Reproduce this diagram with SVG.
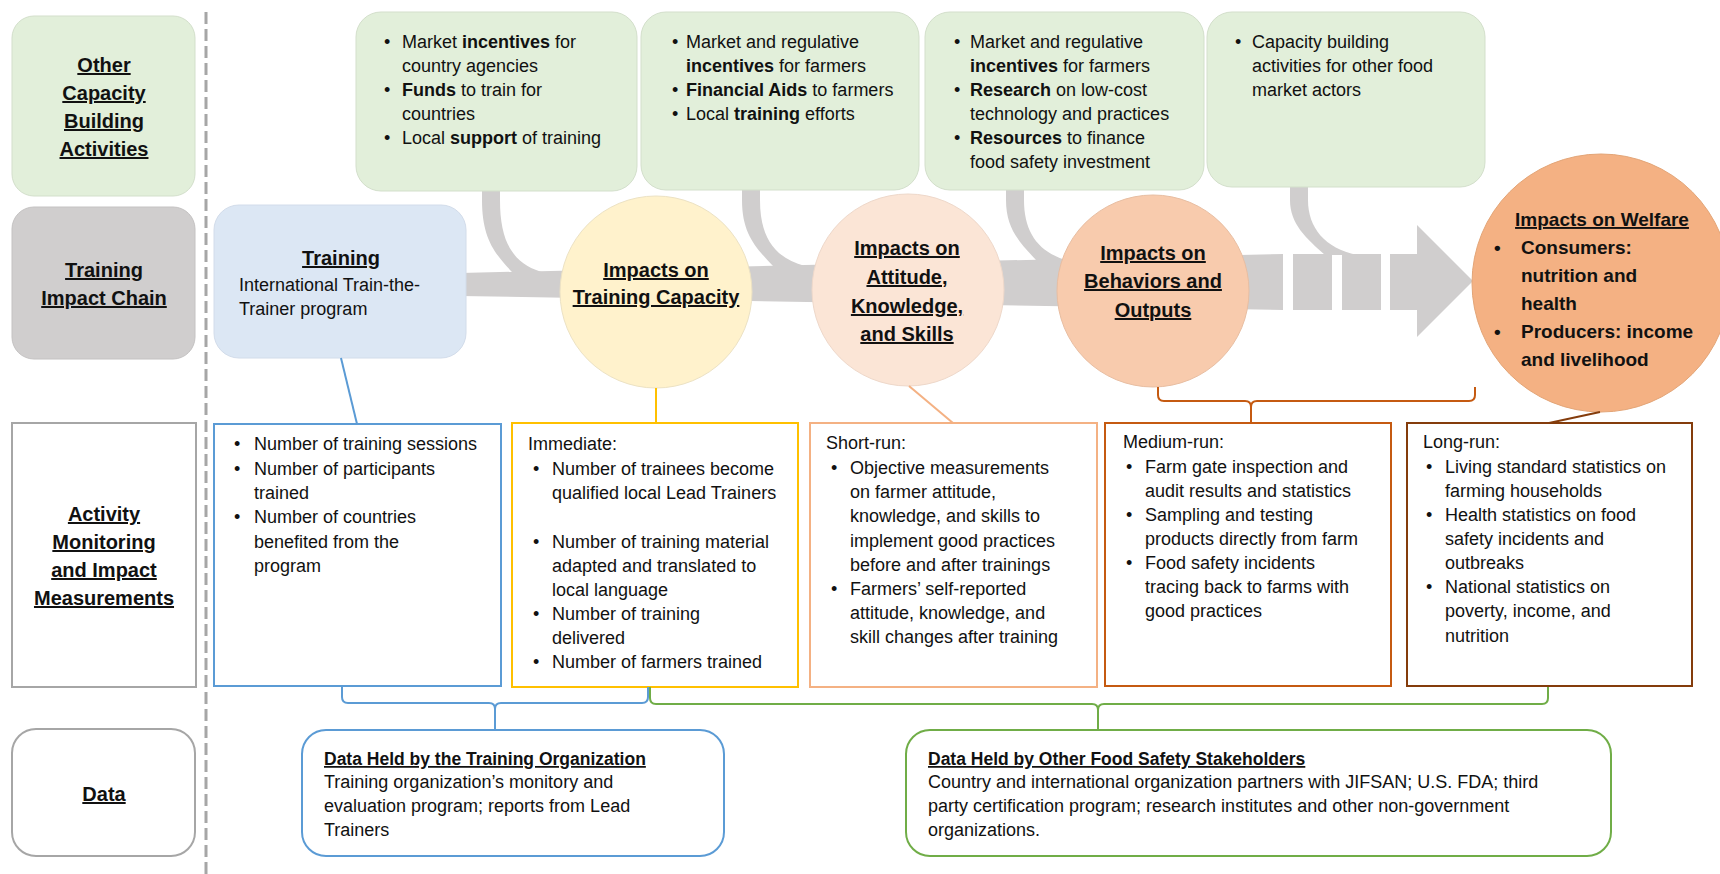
<svg xmlns="http://www.w3.org/2000/svg" width="1720" height="874" viewBox="0 0 1720 874">
<style>
text { font-family: "Liberation Sans", Arial, sans-serif; fill: #111; }
.t { font-size: 18px; }
.b { font-weight: bold; }
.h { font-size: 20px; font-weight: bold; text-decoration: underline; text-anchor: middle; }
.hs { font-size: 17.5px; font-weight: bold; text-decoration: underline; }
.cb { font-size: 19px; font-weight: bold; }
.green { fill: #e2efda; stroke: #d3dfcb; stroke-width: 1; }
.arrow { fill: #d0cece; }
.mbox { fill: #ffffff; stroke-width: 2; }
.conn { fill: none; stroke-width: 2; }
</style>

<!-- dashed separator -->
<line x1="206" y1="12" x2="206" y2="874" stroke="#a6a6a6" stroke-width="3" stroke-dasharray="12 5"/>

<!-- gray process arrow (behind nodes) -->
<g id="process-arrow" class="arrow">
  <polygon points="460,273 1283,254 1283,310 460,296"/>
  <rect x="1293" y="254" width="39" height="56"/>
  <rect x="1342" y="254" width="39" height="56"/>
  <polygon points="1390,254 1417,254 1417,225 1473,281 1417,337 1417,310 1390,310"/>
  <path d="M482,186 L500,186 L500,200 C500,245 515,265 545,273 L513,273 C496,255 482,240 482,200 Z"/>
  <path d="M742,186 L760,186 L760,200 C760,238 775,258 805,266 L773,266 C756,248 742,234 742,200 Z"/>
  <path d="M1006,186 L1024,186 L1024,200 C1024,233 1039,253 1069,261 L1037,261 C1020,243 1006,229 1006,200 Z"/>
  <path d="M1290,186 L1308,186 L1308,200 C1308,228 1325,248 1357,255 L1325,255 C1306,238 1290,224 1290,200 Z"/>
</g>

<!-- row labels -->
<g id="label-ocba">
  <rect x="12" y="16" width="183" height="180" rx="22" class="green"/>
  <text class="h" x="104" y="72">Other</text>
  <text class="h" x="104" y="100">Capacity</text>
  <text class="h" x="104" y="128">Building</text>
  <text class="h" x="104" y="156">Activities</text>
</g>
<g id="label-chain">
  <rect x="12" y="207" width="183" height="152" rx="22" fill="#d0cece" stroke="#c4c2c2" stroke-width="1"/>
  <text class="h" x="104" y="277">Training</text>
  <text class="h" x="104" y="305">Impact Chain</text>
</g>
<g id="label-monitoring">
  <rect x="12" y="423" width="184" height="264" class="mbox" stroke="#a6a6a6"/>
  <text class="h" x="104" y="521">Activity</text>
  <text class="h" x="104" y="549">Monitoring</text>
  <text class="h" x="104" y="577">and Impact</text>
  <text class="h" x="104" y="605">Measurements</text>
</g>
<g id="label-data">
  <rect x="12" y="729" width="183" height="127" rx="24" fill="#ffffff" stroke="#a6a6a6" stroke-width="2"/>
  <text class="h" x="104" y="801">Data</text>
</g>

<!-- other capacity building activities -->
<g id="cba-1">
  <rect x="356" y="12" width="281" height="179" rx="25" class="green"/>
  <text class="t" x="384" y="48">•</text>
  <text class="t" x="402" y="48">Market <tspan class="b">incentives</tspan> for</text>
  <text class="t" x="402" y="72">country agencies</text>
  <text class="t" x="384" y="96">•</text>
  <text class="t" x="402" y="96"><tspan class="b">Funds</tspan> to train for</text>
  <text class="t" x="402" y="120">countries</text>
  <text class="t" x="384" y="144">•</text>
  <text class="t" x="402" y="144">Local <tspan class="b">support</tspan> of training</text>
</g>
<g id="cba-2">
  <rect x="641" y="12" width="278" height="178" rx="25" class="green"/>
  <text class="t" x="672" y="48">•</text>
  <text class="t" x="686" y="48">Market and regulative</text>
  <text class="t" x="686" y="72"><tspan class="b">incentives</tspan> for farmers</text>
  <text class="t" x="672" y="96">•</text>
  <text class="t" x="686" y="96"><tspan class="b">Financial Aids</tspan> to farmers</text>
  <text class="t" x="672" y="120">•</text>
  <text class="t" x="686" y="120">Local <tspan class="b">training</tspan> efforts</text>
</g>
<g id="cba-3">
  <rect x="925" y="12" width="279" height="178" rx="25" class="green"/>
  <text class="t" x="954" y="48">•</text>
  <text class="t" x="970" y="48">Market and regulative</text>
  <text class="t" x="970" y="72"><tspan class="b">incentives</tspan> for farmers</text>
  <text class="t" x="954" y="96">•</text>
  <text class="t" x="970" y="96"><tspan class="b">Research</tspan> on low-cost</text>
  <text class="t" x="970" y="120">technology and practices</text>
  <text class="t" x="954" y="144">•</text>
  <text class="t" x="970" y="144"><tspan class="b">Resources</tspan> to finance</text>
  <text class="t" x="970" y="168">food safety investment</text>
</g>
<g id="cba-4">
  <rect x="1207" y="12" width="278" height="175" rx="25" class="green"/>
  <text class="t" x="1235" y="48">•</text>
  <text class="t" x="1252" y="48">Capacity building</text>
  <text class="t" x="1252" y="72">activities for other food</text>
  <text class="t" x="1252" y="96">market actors</text>
</g>

<!-- impact chain -->
<g id="training">
  <rect x="214" y="205" width="252" height="153" rx="25" fill="#dce7f4" stroke="#d2dcea" stroke-width="1"/>
  <text class="h" x="341" y="265">Training</text>
  <text class="t" x="239" y="291">International Train-the-</text>
  <text class="t" x="239" y="315">Trainer program</text>
</g>
<g id="impact-capacity">
  <circle cx="656" cy="292" r="96" fill="#fff2cc" stroke="#ece2c4" stroke-width="1"/>
  <text class="h" x="656" y="277">Impacts on</text>
  <text class="h" x="656" y="304">Training Capacity</text>
</g>
<g id="impact-aks">
  <circle cx="908" cy="290" r="96" fill="#fbe5d6" stroke="#eed8ca" stroke-width="1"/>
  <text class="h" x="907" y="255">Impacts on</text>
  <text class="h" x="907" y="284">Attitude,</text>
  <text class="h" x="907" y="313">Knowledge,</text>
  <text class="h" x="907" y="341">and Skills</text>
</g>
<g id="impact-behaviors">
  <circle cx="1153" cy="291" r="96" fill="#f8cbad" stroke="#e8bea2" stroke-width="1"/>
  <text class="h" x="1153" y="260">Impacts on</text>
  <text class="h" x="1153" y="288">Behaviors and</text>
  <text class="h" x="1153" y="317">Outputs</text>
</g>
<g id="impact-welfare">
  <circle cx="1601" cy="283" r="129" fill="#f4b183" stroke="#e3a577" stroke-width="1"/>
  <text class="h" x="1602" y="226" style="font-size:19px">Impacts on Welfare</text>
  <text class="cb" x="1494" y="254">•</text>
  <text class="cb" x="1521" y="254">Consumers:</text>
  <text class="cb" x="1521" y="282">nutrition and</text>
  <text class="cb" x="1521" y="310">health</text>
  <text class="cb" x="1494" y="338">•</text>
  <text class="cb" x="1521" y="338">Producers: income</text>
  <text class="cb" x="1521" y="366">and livelihood</text>
</g>

<!-- measurement boxes -->
<g id="measure-training">
  <rect x="214" y="424" width="287" height="262" class="mbox" stroke="#5b9bd5"/>
  <text class="t" x="234" y="450">•</text>
  <text class="t" x="254" y="450">Number of training sessions</text>
  <text class="t" x="234" y="475">•</text>
  <text class="t" x="254" y="475">Number of participants</text>
  <text class="t" x="254" y="499">trained</text>
  <text class="t" x="234" y="523">•</text>
  <text class="t" x="254" y="523">Number of countries</text>
  <text class="t" x="254" y="548">benefited from the</text>
  <text class="t" x="254" y="572">program</text>
</g>
<g id="measure-immediate">
  <rect x="512" y="423" width="286" height="264" class="mbox" stroke="#ffc000"/>
  <text class="t" x="528" y="450">Immediate:</text>
  <text class="t" x="533" y="475">•</text>
  <text class="t" x="552" y="475">Number of trainees become</text>
  <text class="t" x="552" y="499">qualified local Lead Trainers</text>
  <text class="t" x="533" y="548">•</text>
  <text class="t" x="552" y="548">Number of training material</text>
  <text class="t" x="552" y="572">adapted and translated to</text>
  <text class="t" x="552" y="596">local language</text>
  <text class="t" x="533" y="620">•</text>
  <text class="t" x="552" y="620">Number of training</text>
  <text class="t" x="552" y="644">delivered</text>
  <text class="t" x="533" y="668">•</text>
  <text class="t" x="552" y="668">Number of farmers trained</text>
</g>
<g id="measure-short">
  <rect x="810" y="423" width="287" height="264" class="mbox" stroke="#f4b183"/>
  <text class="t" x="826" y="449">Short-run:</text>
  <text class="t" x="831" y="474">•</text>
  <text class="t" x="850" y="474">Objective measurements</text>
  <text class="t" x="850" y="498">on farmer attitude,</text>
  <text class="t" x="850" y="522">knowledge, and skills to</text>
  <text class="t" x="850" y="547">implement good practices</text>
  <text class="t" x="850" y="571">before and after trainings</text>
  <text class="t" x="831" y="595">•</text>
  <text class="t" x="850" y="595">Farmers’ self-reported</text>
  <text class="t" x="850" y="619">attitude, knowledge, and</text>
  <text class="t" x="850" y="643">skill changes after training</text>
</g>
<g id="measure-medium">
  <rect x="1105" y="423" width="286" height="263" class="mbox" stroke="#c55a11"/>
  <text class="t" x="1123" y="448">Medium-run:</text>
  <text class="t" x="1126" y="473">•</text>
  <text class="t" x="1145" y="473">Farm gate inspection and</text>
  <text class="t" x="1145" y="497">audit results and statistics</text>
  <text class="t" x="1126" y="521">•</text>
  <text class="t" x="1145" y="521">Sampling and testing</text>
  <text class="t" x="1145" y="545">products directly from farm</text>
  <text class="t" x="1126" y="569">•</text>
  <text class="t" x="1145" y="569">Food safety incidents</text>
  <text class="t" x="1145" y="593">tracing back to farms with</text>
  <text class="t" x="1145" y="617">good practices</text>
</g>
<g id="measure-long">
  <rect x="1407" y="423" width="285" height="263" class="mbox" stroke="#843c0c"/>
  <text class="t" x="1423" y="448">Long-run:</text>
  <text class="t" x="1426" y="473">•</text>
  <text class="t" x="1445" y="473">Living standard statistics on</text>
  <text class="t" x="1445" y="497">farming households</text>
  <text class="t" x="1426" y="521">•</text>
  <text class="t" x="1445" y="521">Health statistics on food</text>
  <text class="t" x="1445" y="545">safety incidents and</text>
  <text class="t" x="1445" y="569">outbreaks</text>
  <text class="t" x="1426" y="593">•</text>
  <text class="t" x="1445" y="593">National statistics on</text>
  <text class="t" x="1445" y="617">poverty, income, and</text>
  <text class="t" x="1445" y="642">nutrition</text>
</g>

<!-- data boxes -->
<g id="data-training-org">
  <rect x="302" y="730" width="422" height="126" rx="24" fill="#ffffff" stroke="#5b9bd5" stroke-width="2"/>
  <text class="hs" x="324" y="765">Data Held by the Training Organization</text>
  <text class="t" x="324" y="788">Training organization’s monitory and</text>
  <text class="t" x="324" y="812">evaluation program; reports from Lead</text>
  <text class="t" x="324" y="836">Trainers</text>
</g>
<g id="data-stakeholders">
  <rect x="906" y="730" width="705" height="126" rx="24" fill="#ffffff" stroke="#70ad47" stroke-width="2"/>
  <text class="hs" x="928" y="765">Data Held by Other Food Safety Stakeholders</text>
  <text class="t" x="928" y="788">Country and international organization partners with JIFSAN; U.S. FDA; third</text>
  <text class="t" x="928" y="812">party certification program; research institutes and other non-government</text>
  <text class="t" x="928" y="836">organizations.</text>
</g>

<!-- connectors -->
<g id="connectors">
  <line x1="341" y1="358" x2="357" y2="424" class="conn" stroke="#5b9bd5" stroke-width="1.5"/>
  <line x1="656" y1="388" x2="656" y2="423" class="conn" stroke="#ffc000"/>
  <line x1="909" y1="386" x2="953" y2="423" class="conn" stroke="#f4b183"/>
  <path d="M1158,387 L1158,395 Q1158,401 1164,401 L1245,401 Q1251,401 1251,407 L1251,423 M1251,407 Q1251,401 1257,401 L1469,401 Q1475,401 1475,395 L1475,387" class="conn" stroke="#c55a11"/>
  <line x1="1600" y1="412" x2="1549" y2="423" class="conn" stroke="#843c0c" stroke-width="2.5"/>
  <path d="M342,687 L342,697 Q342,703 348,703 L489,703 Q495,703 495,709 L495,730 M495,709 Q495,703 501,703 L642,703 Q648,703 648,697 L648,687" class="conn" stroke="#5b9bd5"/>
  <path d="M650,687 L650,698 Q650,704 656,704 L1092,704 Q1098,704 1098,710 L1098,730 M1098,710 Q1098,704 1104,704 L1542,704 Q1548,704 1548,698 L1548,687" class="conn" stroke="#70ad47"/>
</g>
</svg>
